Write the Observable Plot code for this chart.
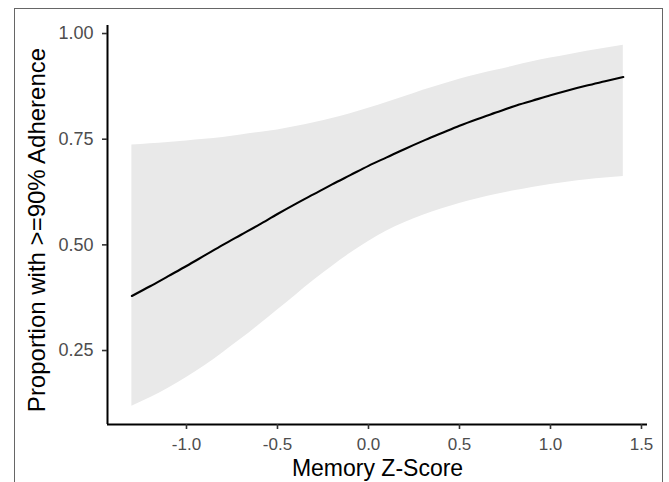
<!DOCTYPE html>
<html>
<head>
<meta charset="utf-8">
<script src="https://cdn.jsdelivr.net/npm/d3@7"></script>
<script src="https://cdn.jsdelivr.net/npm/@observablehq/plot@0.6"></script>
<style>
  html, body { margin: 0; padding: 0; background: #fff; overflow: hidden; width: 669px; height: 482px; }
  #chart { position: absolute; left: 0; top: 0; }
  #border { position: absolute; left: 14px; top: 8px; width: 649px; height: 500px; border: 1.5px solid #666; box-sizing: border-box; pointer-events: none; }
</style>
</head>
<body>
<div id="chart"></div>
<div id="border"></div>
<script>
// Memory Z-Score values at which the fitted curve was read
const memoryZ = [-1.3, -1.2, -1.1, -1.0, -0.9, -0.8, -0.7, -0.6, -0.5, -0.4, -0.3, -0.2, -0.1, 0.0,
                 0.1, 0.2, 0.3, 0.4, 0.5, 0.6, 0.7, 0.8, 0.9, 1.0, 1.1, 1.2, 1.3, 1.4];
// fitted proportion
const fitted = [0.379, 0.402, 0.426, 0.450, 0.475, 0.500, 0.524, 0.548, 0.573, 0.597, 0.620, 0.643, 0.665, 0.687,
                0.707, 0.727, 0.746, 0.764, 0.782, 0.798, 0.813, 0.828, 0.841, 0.854, 0.866, 0.877, 0.887, 0.897];
// lower confidence bound
const lower = [0.118, 0.138, 0.161, 0.186, 0.214, 0.245, 0.277, 0.311, 0.346, 0.381, 0.416, 0.449, 0.480, 0.508,
               0.533, 0.553, 0.570, 0.585, 0.598, 0.609, 0.619, 0.628, 0.636, 0.643, 0.649, 0.654, 0.658, 0.662];
// upper confidence bound
const upper = [0.736, 0.739, 0.742, 0.746, 0.750, 0.754, 0.760, 0.766, 0.772, 0.780, 0.789, 0.799, 0.810, 0.823,
               0.837, 0.851, 0.866, 0.879, 0.892, 0.903, 0.913, 0.923, 0.933, 0.942, 0.950, 0.958, 0.965, 0.972];

const xTicks = [-1.0, -0.5, 0.0, 0.5, 1.0, 1.5];
const yTicks = [0.25, 0.50, 0.75, 1.00];
const xDomain = [-1.434, 1.533];
const yDomain = [0.075, 1.019];

const data = memoryZ.map((x, i) => ({x, fit: fitted[i], lo: lower[i], hi: upper[i]}));

const plot = Plot.plot({
  width: 669,
  height: 482,
  marginLeft: 107,
  marginRight: 22,
  marginTop: 25,
  marginBottom: 58,
  style: { fontFamily: "'Liberation Sans', Arial, Helvetica, sans-serif", background: "transparent" },
  x: { domain: xDomain },
  y: { domain: yDomain },
  marks: [
    Plot.areaY(data, { x: "x", y1: "lo", y2: "hi", fill: "#e9e9e9", curve: "monotone-x" }),
    Plot.lineY(data, { x: "x", y: "fit", stroke: "#000", strokeWidth: 2.1, curve: "monotone-x" }),
    Plot.ruleX([xDomain[0]], { stroke: "#000", strokeWidth: 2 }),
    Plot.ruleY([yDomain[0]], { stroke: "#000", strokeWidth: 2 }),
    Plot.axisX({ ticks: xTicks, tickFormat: d => d.toFixed(1), tickSize: 5, tickPadding: 8, stroke: "#333", strokeWidth: 1.6,
                 fill: "#4d4d4d", fontSize: 17, label: null }),
    Plot.axisY({ ticks: yTicks, tickFormat: d => d.toFixed(2), tickSize: 5, tickPadding: 9, stroke: "#333", strokeWidth: 1.6,
                 fill: "#4d4d4d", fontSize: 18, label: null }),
    Plot.text(["Memory Z-Score"], { frameAnchor: "bottom", dy: 51, fontSize: 23, fill: "#000", lineAnchor: "bottom" }),
    Plot.text(["Proportion with >=90% Adherence"], { frameAnchor: "left", dx: -70, dy: 5, rotate: -90, textAnchor: "middle",
                 lineAnchor: "middle", fontSize: 24, fill: "#000" })
  ]
});
document.getElementById("chart").appendChild(plot);
</script>
</body>
</html>
